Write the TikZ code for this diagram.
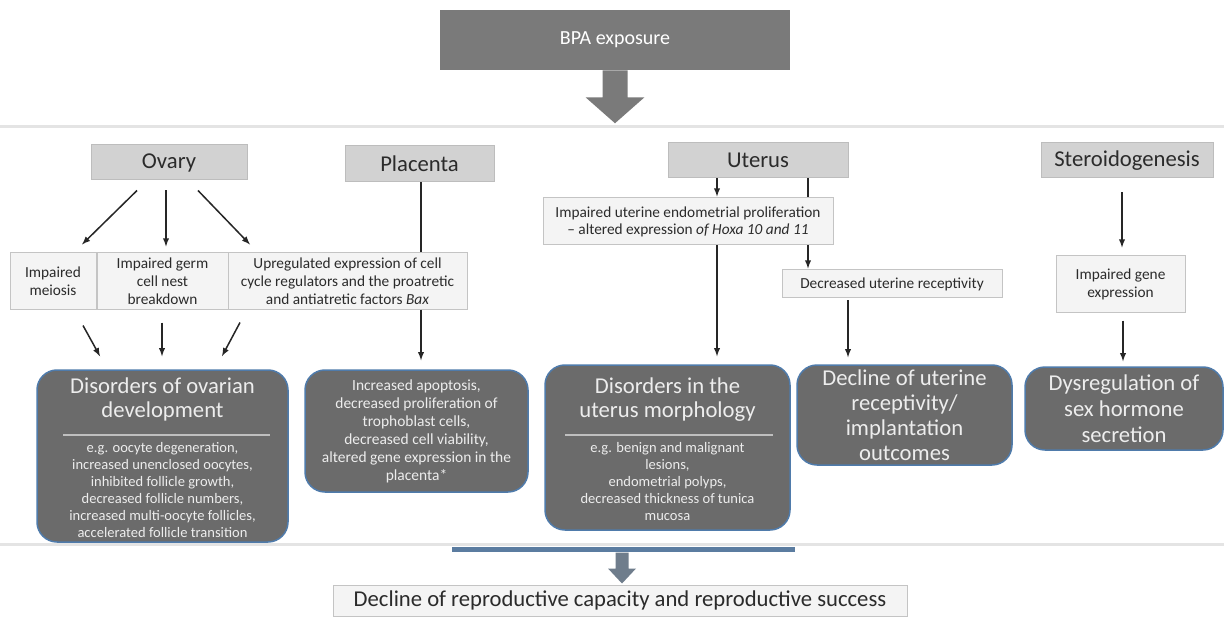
\documentclass[tikz,border=0pt]{standalone}
\usepackage{fontspec}
\setmainfont{Carlito}
\usepackage{tikz}
\usetikzlibrary{arrows}

\definecolor{boxdark}{HTML}{6B6B6B}
\definecolor{boxedge}{HTML}{4F7BAB}
\definecolor{hdrfill}{HTML}{D2D2D2}
\definecolor{hdredge}{HTML}{BDBDBD}
\definecolor{lightfill}{HTML}{F4F4F4}
\definecolor{lightedge}{HTML}{C4C4C4}
\definecolor{txtdark}{HTML}{2B2B2B}
\definecolor{txtlight}{HTML}{EDEDED}
\definecolor{rulegray}{HTML}{E4E4E4}
\definecolor{barblue}{HTML}{5B7CA0}
\definecolor{arrgray}{HTML}{7A7A7A}
\definecolor{arrblue}{HTML}{6F7D8C}

\newdimen\px \px=0.75pt

\tikzset{
  hdr/.style={draw=hdredge, fill=hdrfill, line width=1\px, text=txtdark, font=\fontsize{17}{20}\selectfont, inner sep=0pt},
  lbox/.style={draw=lightedge, fill=lightfill, line width=1\px, text=txtdark, align=center, font=\fontsize{11.5}{13.5}\selectfont, inner sep=0pt},
  dbox/.style={draw=boxedge, fill=boxdark, line width=1.5\px, rounded corners=20\px, text=txtlight, align=center, inner sep=0pt},
  dtitle/.style={text=txtlight, align=center, font=\fontsize{17}{18}\selectfont, inner sep=0pt},
  dbody/.style={text=txtlight, align=center, font=\fontsize{10.9}{12.75}\selectfont, inner sep=0pt},
  sepline/.style={draw=black!25, line width=1.5\px},
  arr/.style={-latex, line width=1.5\px, draw=black!85},
  link/.style={line width=1.5\px, draw=black!85}
}

\begin{document}
\begin{tikzpicture}[x=0.75pt, y=-0.75pt]
\useasboundingbox[fill=white] (0,0) rectangle (1224,620);

% Drawing exposure block and separators
\node[fill=arrgray, minimum width=350\px, minimum height=60\px, text=white, font=\fontsize{15}{18}\selectfont] (bpa) at (615,40) {BPA exposure};
\fill[arrgray] ([xshift=-12.5\px]bpa.south) -- ++(0,27) -- ++(-17,0) -- ++(29.5,26) -- ++(29.5,-26) -- ++(-17,0) -- ++(0,-27) -- cycle;
\draw[rulegray, line width=3\px] (0,127) -- (1224,127);
\draw[rulegray, line width=3\px] (0,544) -- (1224,544);

% Drawing header boxes
\node[hdr, minimum width=156\px, minimum height=35\px] (ovary) at (169,162.5) {Ovary};
\node[hdr, minimum width=149\px, minimum height=36\px] (placenta) at (419.5,164) {Placenta};
\node[hdr, minimum width=180\px, minimum height=35\px] (uterus) at (758,160.5) {Uterus};
\node[hdr, minimum width=172\px, minimum height=35\px] (steroid) at (1127,160.5) {Steroidogenesis};

% Drawing mechanism boxes
\node[lbox, minimum width=86\px, minimum height=56\px] (meiosis) at (53,281) {Impaired\\meiosis};
\node[lbox, minimum width=131\px, minimum height=56\px] (germ) at (162.5,281) {Impaired germ\\cell nest\\breakdown};
\node[lbox, minimum width=239\px, minimum height=56\px] (upreg) at (347.5,281) {Upregulated expression of cell\\cycle regulators and the proatretic\\and antiatretic factors \textit{Bax}};
\node[lbox, minimum width=290\px, minimum height=47\px, font=\fontsize{11.5}{12.75}\selectfont] (hoxa) at (688,221.5) {Impaired uterine endometrial proliferation\\– altered expression \textit{of Hoxa 10 and 11}};
\node[lbox, minimum width=220\px, minimum height=28\px] (decrec) at (892,284) {Decreased uterine receptivity};
\node[lbox, minimum width=129\px, minimum height=56\px] (gene) at (1120.5,284) {Impaired gene\\expression};

% Drawing outcome boxes
\node[dbox, minimum width=251\px, minimum height=172\px] (ovdis) at (162.5,456) {};
\node[dtitle] (ovtitle) at (162.5,399) {Disorders of ovarian\\development};
\draw[sepline] (63,435) -- (270,435);
\node[dbody] (ovtext) at (162.5,490) {e.g. oocyte degeneration,\\increased unenclosed oocytes,\\inhibited follicle growth,\\decreased follicle numbers,\\increased multi-oocyte follicles,\\accelerated follicle transition};

\node[dbox, minimum width=223\px, minimum height=122\px, font=\fontsize{11.6}{13.5}\selectfont] (pldis) at (416.5,431) {Increased apoptosis,\\decreased proliferation of\\trophoblast cells,\\decreased cell viability,\\altered gene expression in the\\placenta*};

\node[dbox, minimum width=245\px, minimum height=165\px] (utdis) at (667.5,447.5) {};
\node[dtitle] (uttitle) at (667.5,399.5) {Disorders in the\\uterus morphology};
\draw[sepline] (565,435) -- (773,435);
\node[dbody] (uttext) at (667.5,482) {e.g. benign and malignant\\lesions,\\endometrial polyps,\\decreased thickness of tunica\\mucosa};

\node[dbox, minimum width=215\px, minimum height=100\px, font=\fontsize{17}{18.75}\selectfont] (recdis) at (904.5,415) {Decline of uterine\\receptivity/\\implantation\\outcomes};
\node[dbox, minimum width=198\px, minimum height=83\px, font=\fontsize{17}{19.5}\selectfont] (hormdis) at (1124,408.5) {Dysregulation of\\sex hormone\\secretion};

% Drawing connectors
\draw[arr] ([xshift=-32\px,yshift=-10\px]ovary.south) -- ([xshift=29\px,yshift=8\px]meiosis.north);
\draw[arr] ([xshift=-3\px,yshift=-10\px]ovary.south) -- ([xshift=3.5\px,yshift=6\px]germ.north);
\draw[arr] ([xshift=29\px,yshift=-10\px]ovary.south) -- ([xshift=-97.5\px,yshift=8\px]upreg.north);
\draw[arr] ([xshift=30\px,yshift=-16\px]meiosis.south) -- ([xshift=-62.5\px,yshift=13\px]ovdis.north);
\draw[arr] ([xshift=-0.5\px,yshift=-13\px]germ.south) -- ([xshift=-0.5\px,yshift=13\px]ovdis.north);
\draw[arr] ([xshift=-107.5\px,yshift=-13\px]upreg.south) -- ([xshift=59.5\px,yshift=13\px]ovdis.north);
\draw[link] ([xshift=1.5\px]placenta.south) -- ([xshift=73.5\px]upreg.north);
\draw[arr] ([xshift=73.5\px]upreg.south) -- ([xshift=4.5\px,yshift=9\px]pldis.north);
\draw[arr] ([xshift=-41\px]uterus.south) -- ([xshift=29\px,yshift=1\px]hoxa.north);
\draw[link] ([xshift=50\px]uterus.south) -- ([xshift=120\px]hoxa.north);
\draw[arr] ([xshift=120\px]hoxa.south) -- ([xshift=-84\px,yshift=1\px]decrec.north);
\draw[arr] ([xshift=29\px]hoxa.south) -- ([xshift=49.5\px,yshift=8\px]utdis.north);
\draw[arr] ([xshift=-44\px,yshift=-2\px]decrec.south) -- ([xshift=-56.5\px,yshift=7\px]recdis.north);
\draw[arr] ([xshift=-5\px,yshift=-14\px]steroid.south) -- ([xshift=1.5\px,yshift=8\px]gene.north);
\draw[arr] ([xshift=2.5\px,yshift=-8\px]gene.south) -- ([xshift=-1\px,yshift=5\px]hormdis.north);

% Drawing final outcome
\draw[barblue, line width=5\px] (452,549) -- (795,549);
\node[draw=lightedge, fill=lightfill, line width=1\px, text=txtdark, font=\fontsize{17}{20}\selectfont, minimum width=574\px, minimum height=31\px, inner sep=0pt] (final) at (620,600.5) {Decline of reproductive capacity and reproductive success};
\fill[arrblue] ([xshift=-4.5\px,yshift=32\px]final.north) -- ++(0,16) -- ++(-7.5,0) -- ++(14,15) -- ++(14,-15) -- ++(-7.5,0) -- ++(0,-16) -- cycle;
\end{tikzpicture}
\end{document}
